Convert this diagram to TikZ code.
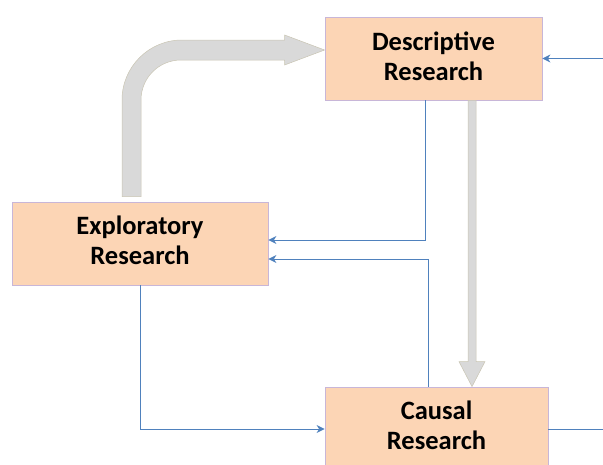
\documentclass[tikz,border=0pt]{standalone}
\usepackage{fontspec}
\setmainfont{Carlito}
\usetikzlibrary{calc,arrows.meta}
\definecolor{boxfill}{HTML}{FCD5B5}
\definecolor{boxline}{HTML}{C8B6D8}
\definecolor{flow}{HTML}{4F81BD}
\definecolor{bigfill}{HTML}{D9D9D9}
\definecolor{bigline}{HTML}{C9C5B3}
\newcommand{\lift}[1]{\rule[-#1]{0pt}{#1}}
\tikzset{
  box/.style={draw=boxline, fill=boxfill, line width=0.8pt, align=center,
    font=\fontsize{26.5}{30}\selectfont\bfseries, inner sep=0pt},
  flowline/.style={draw=flow, line width=0.9pt, -{Stealth[length=8pt,width=8pt,inset=2.5pt]}},
  plainflow/.style={draw=flow, line width=0.9pt},
  bigarrow/.style={fill=bigfill, draw=bigline, line width=0.5pt, line join=miter}
}
\begin{document}
\begin{tikzpicture}[x=1pt,y=-1pt]
\useasboundingbox (0,0) rectangle (603,464);
\clip (0,0) rectangle (603,464);
% boxes
\node[box, minimum width=217pt, minimum height=83pt] (desc) at (433.5,58.5) {Descriptive\\Research\lift{4pt}};
\node[box, minimum width=256pt, minimum height=83pt] (expl) at (140,243.5) {Exploratory\\Research\lift{6pt}};
\node[box, minimum width=223pt, minimum height=80pt] (causal) at (436.5,427) {Causal\\Research\lift{3pt}};
% free ends
\coordinate (rin) at (603,58.5);
\coordinate (rout) at (603,429);
% thick gray curved arrow: Exploratory -> Descriptive
\coordinate (cs) at ($(expl.north)+(-8.5,-5)$);
\coordinate (ct) at ($(desc.west)+(0,-8.5)$);
\coordinate (cc) at (cs |- ct);
\filldraw[bigarrow]
  ($(cs)+(-9.5,0)$) -- ($(cc)+(-9.5,50)$)
  .. controls ($(cc)+(-9.5,16.9)$) and ($(cc)+(17.4,-10)$) .. ($(cc)+(50.5,-10)$)
  -- ($(ct)+(-40,-10)$) -- ($(ct)+(-40,-15)$) -- (ct) -- ($(ct)+(-40,15)$) -- ($(ct)+(-40,10)$)
  -- ($(cc)+(49.5,10)$)
  .. controls ($(cc)+(27.4,10)$) and ($(cc)+(9.5,27.9)$) .. ($(cc)+(9.5,50)$)
  -- ($(cs)+(9.5,0)$) -- cycle;
% thick gray straight arrow: Descriptive -> Causal
\coordinate (vs) at ($(desc.south)+(38.5,0)$);
\coordinate (vt) at ($(causal.north)+(35.5,0)$);
\filldraw[bigarrow]
  ($(vs)+(-4,0)$) -- ($(vt)+(-4,-25)$) -- ($(vt)+(-13,-25)$) -- (vt)
  -- ($(vt)+(13,-25)$) -- ($(vt)+(4,-25)$) -- ($(vs)+(4,0)$) -- cycle;
% blue connectors
\draw[flowline] (rin) -- (desc.east);
\draw[flowline] ([xshift=-8.5pt]desc.south) |- ([yshift=3.5pt]expl.east);
\draw[flowline] ([xshift=-8.5pt]causal.north) |- ([yshift=-15.5pt]expl.east);
\draw[flowline] (expl.south) |- ([yshift=-2pt]causal.west);
\draw[plainflow] ([yshift=-2pt]causal.east) -- (rout);
\end{tikzpicture}
\end{document}
